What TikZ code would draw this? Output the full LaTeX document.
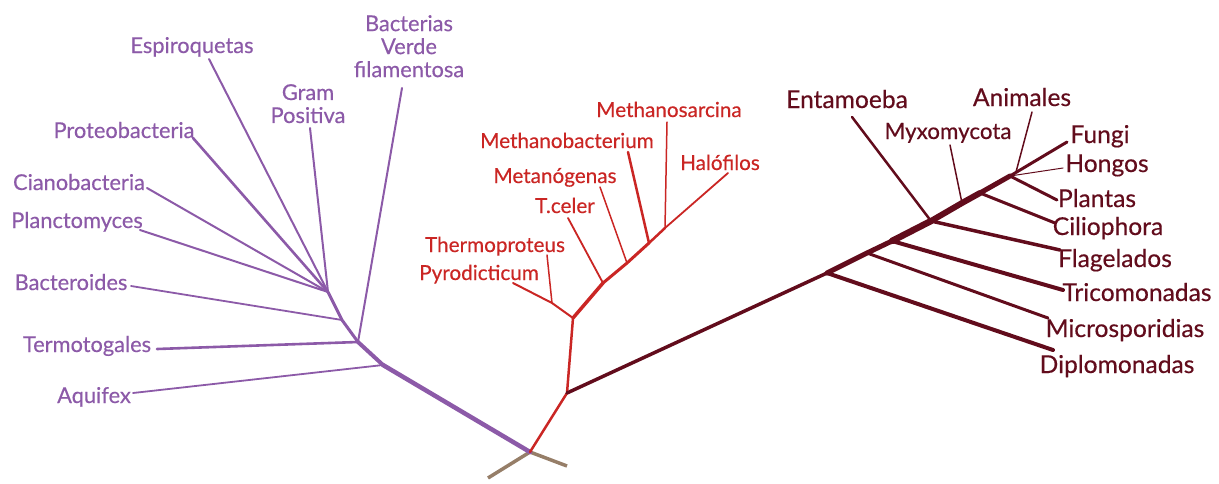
\documentclass[tikz,border=0pt]{standalone}
\usepackage{fontspec}
\setmainfont{Lato}
\newfontfamily\taxonfont{Lato}[FakeBold=0.4]
\usetikzlibrary{positioning}
\definecolor{bactpurple}{RGB}{140,90,168}
\definecolor{archred}{RGB}{202,38,36}
\definecolor{eukmaroon}{RGB}{98,12,28}
\definecolor{rootbrown}{RGB}{150,126,104}

\tikzset{
  branch/.style={line width=#1, line cap=round, line join=round},
  branch/.default=2pt,
  bactline/.style={branch=#1, draw=bactpurple},
  bactline/.default=2pt,
  archline/.style={branch=#1, draw=archred},
  archline/.default=1.8pt,
  eukline/.style={branch=#1, draw=eukmaroon},
  eukline/.default=2.5pt,
  taxon/.style={inner sep=1pt, align=center, anchor=base},
  bactlabel/.style={taxon, text=bactpurple, font=\taxonfont\fontsize{21.8}{23}\selectfont},
  archlabel/.style={taxon, text=archred, font=\taxonfont\fontsize{20.7}{23}\selectfont},
  euklabel/.style={taxon, text=eukmaroon, font=\taxonfont\fontsize{24.6}{27}\selectfont},
}

\begin{document}
\begin{tikzpicture}[x=1pt, y=-1pt]
  \useasboundingbox (0,0) rectangle (1219,483);

  % root and branch points
  \coordinate (root) at (530,452);
  \coordinate (rootL) at (488,478);
  \coordinate (rootR) at (567,466);
  \coordinate (b0) at (383,365);
  \coordinate (b1) at (358,342);
  \coordinate (b2) at (342,320);
  \coordinate (b3) at (328,292);
  \coordinate (a0) at (567,393);
  \coordinate (a1) at (573,318);
  \coordinate (a2) at (603,283);
  \coordinate (a3) at (627,263);
  \coordinate (a4) at (649,243);
  \coordinate (a5) at (665,228);
  \coordinate (a6) at (552,303);
  \coordinate (e1) at (827,273);
  \coordinate (e2) at (867,253);
  \coordinate (e3) at (892,241);
  \coordinate (e4) at (931,221);
  \coordinate (e5) at (962,203);
  \coordinate (e6) at (980,193);
  \coordinate (e7) at (1010,176);
  \coordinate (e8) at (1016,172);

  % branch tips
  \coordinate (tAqu) at (133,393);
  \coordinate (tTer) at (157,349);
  \coordinate (tBac) at (131,286);
  \coordinate (tPla) at (140,230);
  \coordinate (tCia) at (147,188);
  \coordinate (tPro) at (193,138);
  \coordinate (tEsp) at (209,59);
  \coordinate (tGra) at (310,128);
  \coordinate (tVer) at (402,88);
  \coordinate (tPyr) at (513,283);
  \coordinate (tThe) at (547,255);
  \coordinate (tTce) at (568,218);
  \coordinate (tMet) at (600,187);
  \coordinate (tMba) at (628,152);
  \coordinate (tMsa) at (667,122);
  \coordinate (tHal) at (728,173);
  \coordinate (tEnt) at (852,117);
  \coordinate (tMyx) at (950,145);
  \coordinate (tAni) at (1032,112);
  \coordinate (tFun) at (1067,142);
  \coordinate (tHon) at (1063,168);
  \coordinate (tPlt) at (1057,200);
  \coordinate (tCil) at (1055,223);
  \coordinate (tFla) at (1060,250);
  \coordinate (tTri) at (1063,290);
  \coordinate (tMic) at (1048,318);
  \coordinate (tDip) at (1053,350);

  % labels (placed on their baselines)
  \node[bactlabel] (espiroquetas) at (192,53) {Espiroquetas};
  \node[bactlabel, anchor=north] (verde) at (409,14) {Bacterias\\Verde\\filamentosa};
  \node[bactlabel, anchor=north] (gram) at (308,83) {Gram\\Positiva};
  \node[bactlabel] (proteo) at (124,138) {Proteobacteria};
  \node[bactlabel] (ciano) at (79,190) {Cianobacteria};
  \node[bactlabel] (plancto) at (77,228) {Planctomyces};
  \node[bactlabel] (bactero) at (71,290) {Bacteroides};
  \node[bactlabel] (termo) at (87,352) {Termotogales};
  \node[bactlabel] (aquifex) at (94,403) {Aquifex};

  \node[archlabel] (msarcina) at (669,117) {Methanosarcina};
  \node[archlabel] (mbact) at (567,148) {Methanobacterium};
  \node[archlabel] (halo) at (720,170) {Halófilos};
  \node[archlabel] (metano) at (555,183) {Metanógenas};
  \node[archlabel] (tceler) at (565,213) {T.celer};
  \node[archlabel] (thermop) at (495,252) {Thermoproteus};
  \node[archlabel] (pyro) at (479,280) {Pyrodicticum};

  \node[euklabel] (entamoeba) at (847,108) {Entamoeba};
  \node[euklabel] (animales) at (1022,106) {Animales};
  \node[euklabel, font=\taxonfont\fontsize{22.4}{25}\selectfont] (myxo) at (948,139) {Myxomycota};
  \node[euklabel] (fungi) at (1100,143) {Fungi};
  \node[euklabel] (hongos) at (1107,172) {Hongos};
  \node[euklabel] (plantas) at (1097,207) {Plantas};
  \node[euklabel] (cilio) at (1108,235) {Ciliophora};
  \node[euklabel] (flage) at (1115,267) {Flagelados};
  \node[euklabel] (trico) at (1137,301) {Tricomonadas};
  \node[euklabel] (micro) at (1125,337) {Microsporidias};
  \node[euklabel] (diplo) at (1117,373) {Diplomonadas};

  % root
  \draw[branch=3.5pt, rootbrown, line cap=butt] (rootL) -- (root) -- (rootR);

  % bacteria
  \draw[bactline=4.5pt] (root) -- (b0);
  \draw[bactline=4pt] (b0) -- (b1);
  \draw[bactline=3pt] (b1) -- (b2) -- (b3);
  \draw[bactline=1.8pt] (b0) -- (tAqu);
  \draw[bactline=2.6pt] (b1) -- (tTer);
  \draw[bactline=2pt] (b1) -- (tVer);
  \draw[bactline=1.8pt] (b2) -- (tBac);
  \draw[bactline] (b3) -- (tPla);
  \draw[bactline] (b3) -- (tCia);
  \draw[bactline=2.6pt] (b3) -- (tPro);
  \draw[bactline] (b3) -- (tEsp);
  \draw[bactline] (b3) -- (tGra);

  % archaea
  \draw[archline=2.5pt] (root) -- (a0) -- (a1);
  \draw[archline=3.5pt] (a1) -- (a2);
  \draw[archline=3pt] (a2) -- (a3) -- (a4);
  \draw[archline=2.5pt] (a4) -- (a5);
  \draw[archline] (a5) -- (tHal);
  \draw[archline=2pt] (a1) -- (a6) -- (tPyr);
  \draw[archline=1.5pt] (a6) -- (tThe);
  \draw[archline] (a2) -- (tTce);
  \draw[archline=1.5pt] (a3) -- (tMet);
  \draw[archline=2.5pt] (a4) -- (tMba);
  \draw[archline=1.5pt] (a5) -- (tMsa);

  % eukaryota
  \draw[eukline=3.5pt] (a0) -- (e1);
  \draw[eukline=5pt] (e1) -- (e2) -- (e3);
  \draw[eukline=6.5pt] (e3) -- (e4);
  \draw[eukline=6pt] (e4) -- (e5) -- (e6);
  \draw[eukline=5pt] (e6) -- (e7);
  \draw[eukline=3pt] (e7) -- (tFun);
  \draw[eukline=4pt] (e1) -- (tDip);
  \draw[eukline=3pt] (e2) -- (tMic);
  \draw[eukline=4pt] (e3) -- (tTri);
  \draw[eukline=3.5pt] (e4) -- (tFla);
  \draw[eukline=2.5pt] (e4) -- (tEnt);
  \draw[eukline=1.5pt] (e5) -- (tMyx);
  \draw[eukline=3pt] (e6) -- (tCil);
  \draw[eukline=3pt] (e7) -- (tPlt);
  \draw[eukline=1pt] (e7) -- (tHon);
  \draw[eukline=1.5pt] (e8) -- (tAni);
\end{tikzpicture}
\end{document}
